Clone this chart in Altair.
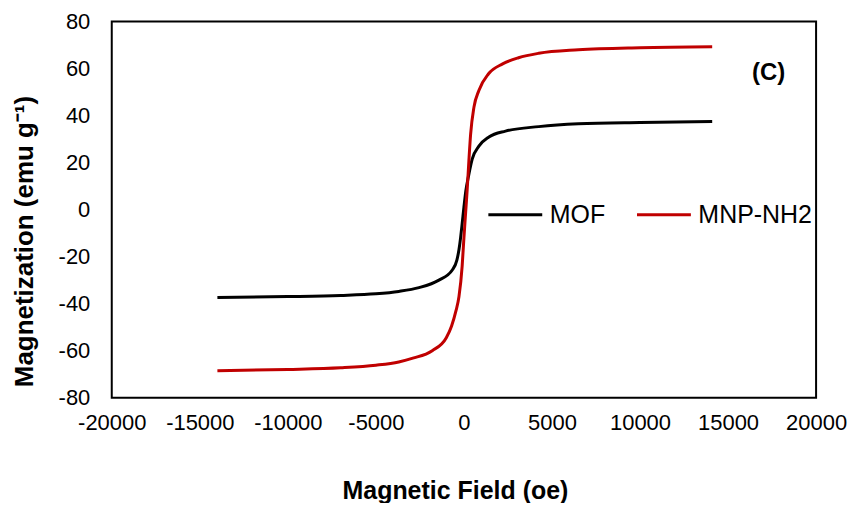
import altair as alt
import pandas as pd

# Data
mof_field = [-14000, -10000, -7000, -5000, -3700, -2550, -1420, -660, -400, -280,
             -190, -100, 0, 110, 280, 470, 850, 1420, 2360, 4250, 6500, 10000, 14100]
mof_mag = [-37.4, -37.0, -36.5, -35.8, -34.8, -33.2, -30.0, -25.7, -21.5, -17.0,
           -12.0, -6.0, 1.0, 8.0, 15.0, 21.5, 27.0, 30.9, 33.4, 35.3, 36.5, 37.1, 37.5]

mnp_field = [-14000, -10000, -7000, -5000, -3700, -2900, -1800, -1000, -700, -450,
             -280, -100, 0, 100, 190, 280, 380, 570, 850, 1400, 2200, 3100, 4250,
             6500, 10000, 14100]
mnp_mag = [-68.5, -68.0, -67.3, -66.2, -64.8, -63.2, -60.0, -54.5, -49.5, -43.0,
           -37.0, -24.0, -12.0, -1.0, 9.0, 20.5, 32.0, 43.6, 50.7, 57.8, 62.0, 64.6,
           66.5, 68.0, 68.9, 69.3]

series = ["MOF", "MNP-NH2"]
colors = ["#000000", "#C00000"]

x_ticks = [-20000, -15000, -10000, -5000, 0, 5000, 10000, 15000, 20000]
y_ticks = [-80, -60, -40, -20, 0, 20, 40, 60, 80]

panel_label = ["(C)"]
panel_x = [17300]
panel_y = [58]

FONT = "Liberation Sans"

rows = []
for name, fs, vals in zip(series, [mof_field, mnp_field], [mof_mag, mnp_mag]):
    for f, v in zip(fs, vals):
        rows.append({"field": f, "mag": v, "series": name})
df = pd.DataFrame(rows)

lbl = pd.DataFrame({"x": panel_x, "y": panel_y, "t": panel_label})

xs = alt.Scale(domain=[-20000, 20000], nice=False, zero=False)
ys = alt.Scale(domain=[-80, 80], nice=False, zero=False)

lines = alt.Chart(df).mark_line(strokeWidth=3, interpolate="monotone").encode(
    x=alt.X("field:Q", scale=xs, axis=alt.Axis(
        values=x_ticks, title="Magnetic Field (oe)", labelExpr="'' + datum.value",
        labelOverlap=False, labelFlush=False,
        labelFontSize=22, labelPadding=15, labelFont=FONT, labelColor="#000000",
        titleFont=FONT, titleFontSize=25, titleFontWeight="bold", titleColor="#000000",
        titleX=344, titleY=101, titleBaseline="alphabetic", titleAlign="center",
    )),
    y=alt.Y("mag:Q", scale=ys, axis=alt.Axis(
        values=y_ticks, title="Magnetization (emu g⁻¹)", labelExpr="'' + datum.value",
        labelOverlap=False, labelFlush=False,
        labelFontSize=22, labelPadding=22, labelFont=FONT, labelColor="#000000",
        titleFont=FONT, titleFontSize=26, titleFontWeight="bold", titleColor="#000000",
        titleX=-87, titleY=220, titleBaseline="middle", titleAlign="center", titleAngle=-90,
    )),
    color=alt.Color("series:N", scale=alt.Scale(domain=series, range=colors),
                    sort=series,
                    legend=alt.Legend(
                        orient="none", legendX=376, legendY=165, direction="horizontal",
                        title=None, symbolType="stroke", symbolStrokeWidth=3,
                        symbolSize=2916, labelFontSize=25, labelFont=FONT,
                        labelColor="#000000", labelOffset=6, columnPadding=25,
                        padding=0,
                    )),
)

label = alt.Chart(lbl).mark_text(font=FONT, fontSize=24, fontWeight="bold",
                                 color="#000000").encode(
    x=alt.X("x:Q", scale=xs),
    y=alt.Y("y:Q", scale=ys),
    text="t:N",
)

chart = alt.layer(lines, label).properties(
    width=706, height=377,
    autosize=alt.AutoSizeParams(type="none"),
    padding={"left": 104, "top": 13, "right": 34, "bottom": 105},
).configure_view(
    stroke="#000000", strokeWidth=2
).configure_axis(
    grid=False, ticks=False, domain=False
)

chart.save("out.html", embed_options={"renderer": "svg", "actions": False})
